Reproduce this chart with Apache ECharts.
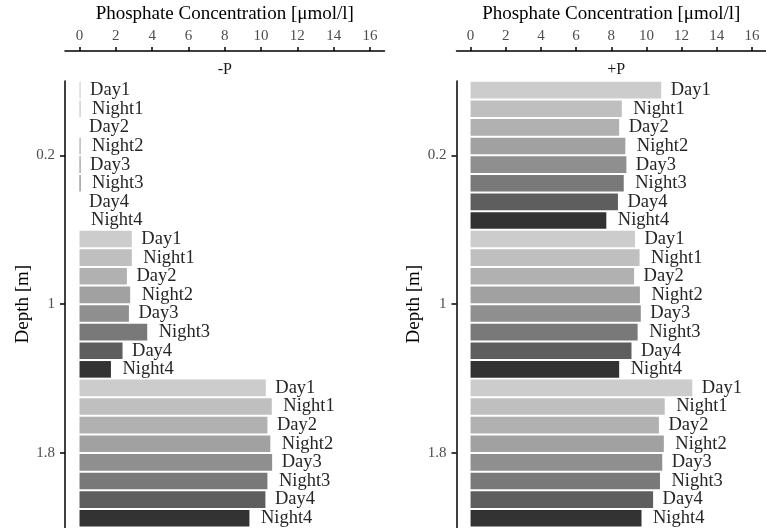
<!DOCTYPE html>
<html>
<head>
<meta charset="utf-8">
<script src="https://cdn.jsdelivr.net/npm/echarts@6/dist/echarts.min.js"></script>
<style>
html,body{margin:0;padding:0;background:#fff;}
#chart{width:766px;height:528px;}
</style>
</head>
<body>
<div id="chart"></div>
<script>
// ---- data ----
var depths = ['0.2', '1', '1.8'];
var depthTicks = [0.2, 1, 1.8];
var concTicks = [0, 2, 4, 6, 8, 10, 12, 14, 16];
var samples = ['Day1', 'Night1', 'Day2', 'Night2', 'Day3', 'Night3', 'Day4', 'Night4'];
var panels = ['-P', '+P'];
// values per depth, in sample order
var minusP_d02 = [0.06, 0.06, 0, 0.06, 0.06, 0.06, 0, 0];
var minusP_d1  = [2.88, 2.88, 2.61, 2.79, 2.72, 3.73, 2.37, 1.73];
var minusP_d18 = [10.26, 10.59, 10.35, 10.51, 10.61, 10.35, 10.24, 9.36];
var plusP_d02  = [10.84, 8.60, 8.45, 8.80, 8.86, 8.71, 8.38, 7.72];
var plusP_d1   = [9.35, 9.61, 9.30, 9.63, 9.68, 9.50, 9.15, 8.45];
var plusP_d18  = [12.61, 11.04, 10.71, 10.99, 10.90, 10.77, 10.38, 9.72];

// ---- styles ----
var fills = ['#CCCCCC', '#BFBFBF', '#B1B1B1', '#A1A1A1', '#8F8F8F', '#797979', '#5E5E5E', '#333333'];
var serif = 'Liberation Serif';
var panelData = [
  [minusP_d02, minusP_d1, minusP_d18],
  [plusP_d02, plusP_d1, plusP_d18]
];
var gridLefts = [65, 456.5];
var gridWidth = 319.5;
var gridTop = 80.5, gridHeight = 447;

var grids = [], xAxes = [], yAxes = [], series = [], graphics = [];
for (var p = 0; p < 2; p++) {
  grids.push({left: gridLefts[p], top: gridTop, width: gridWidth, height: gridHeight, containLabel: false});
  xAxes.push({
    gridIndex: p, type: 'value', position: 'top', offset: 30,
    min: -0.8, max: 16.8,
    axisLine: {show: true, onZero: false, lineStyle: {color: '#000', width: 1.5}},
    axisTick: {show: true, customValues: concTicks, length: 4, lineStyle: {color: '#000', width: 1.5}},
    axisLabel: {customValues: concTicks, margin: 7, color: '#4d4d4d', fontFamily: serif, fontSize: 15},
    splitLine: {show: false},
    name: 'Phosphate Concentration [\u03bcmol/l]', nameLocation: 'middle', nameGap: 21,
    nameTextStyle: {color: '#000', fontFamily: serif, fontSize: 19}
  });
  yAxes.push({
    gridIndex: p, type: 'value', inverse: true, min: -0.2, max: 2.2,
    axisLine: {show: true, onZero: false, lineStyle: {color: '#000', width: 1.5}},
    axisTick: {show: true, customValues: depthTicks, length: 5, lineStyle: {color: '#000', width: 1.5}},
    axisLabel: {customValues: depthTicks, margin: 10, color: '#4d4d4d', fontFamily: serif, fontSize: 15},
    splitLine: {show: false},
    name: 'Depth [m]', nameLocation: 'middle', nameGap: 29,
    nameTextStyle: {color: '#000', fontFamily: serif, fontSize: 19}
  });
  yAxes.push({
    gridIndex: p, type: 'category', data: depths, inverse: true, show: false
  });
  for (var s = 0; s < samples.length; s++) {
    var vals = [];
    for (var d = 0; d < depths.length; d++) vals.push(panelData[p][d][s]);
    (function (name) {
      series.push({
        type: 'bar', name: name,
        xAxisIndex: p, yAxisIndex: p * 2 + 1,
        data: vals,
        barCategoryGap: '1.3%', barGap: '12%',
        itemStyle: {color: fills[s]},
        label: {
          show: true, position: 'right', distance: name.indexOf('Day') === 0 ? 9.5 : 11.5,
          formatter: function () { return name; },
          fontFamily: serif, fontSize: 18.5, color: '#262626'
        },
        silent: true, animation: false
      });
    })(samples[s]);
  }
  graphics.push({
    type: 'text', x: gridLefts[p] + gridWidth / 2, y: 70,
    style: {text: panels[p], textAlign: 'center', textVerticalAlign: 'middle',
      font: '16px "Liberation Serif"', fill: '#1a1a1a'}
  });
}

var chart = echarts.init(document.getElementById('chart'), null, {renderer: 'canvas'});
chart.setOption({
  backgroundColor: '#ffffff',
  animation: false,
  grid: grids,
  xAxis: xAxes,
  yAxis: yAxes,
  series: series,
  graphic: graphics
});
</script>
</body>
</html>
